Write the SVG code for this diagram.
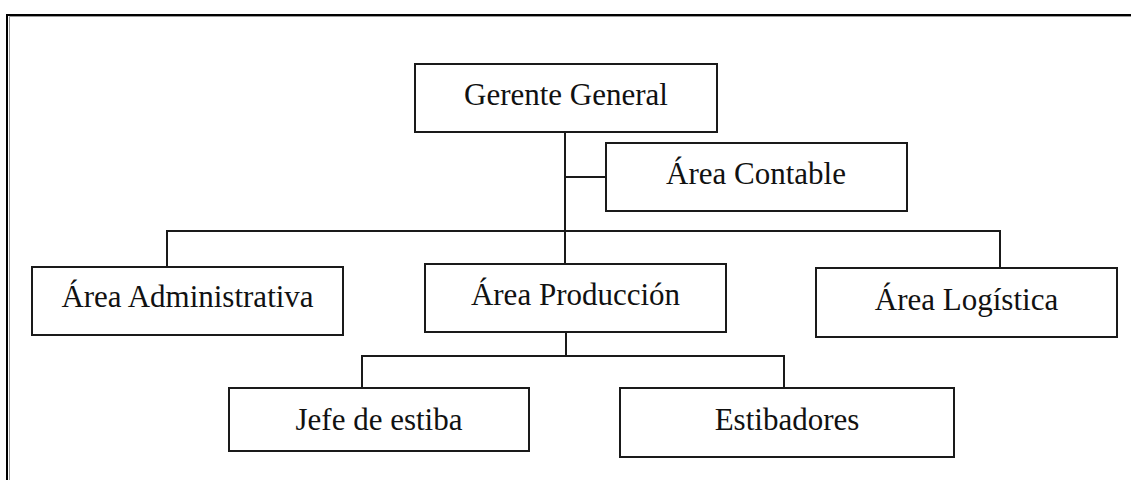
<svg xmlns="http://www.w3.org/2000/svg" width="1131" height="480" viewBox="0 0 1131 480">
<style>
.box{fill:#fff;stroke:#1a1a1a;stroke-width:2}
.lbl{font-family:"Liberation Serif","Times New Roman",serif;font-size:31px;fill:#111;text-anchor:middle}
.ln{fill:none;stroke:#1a1a1a;stroke-width:2}
</style>
<rect width="1131" height="480" fill="#fff"/>
<g id="frame">
<path d="M9.5,481 V16.5 H1132" fill="none" stroke="#999" stroke-width="1"/>
<path d="M7,481 V15 H1132" fill="none" stroke="#000" stroke-width="2"/>
</g>
<g id="connectors">
<path class="ln" d="M565,132 V264"/>
<path class="ln" d="M565,177 H606"/>
<path class="ln" d="M167,267 V231 H1000 V268"/>
<path class="ln" d="M566,332 V356"/>
<path class="ln" d="M362,388 V356 H784 V388"/>
</g>
<g id="gerente-general">
<rect class="box" x="415" y="64" width="302" height="68"/>
<text class="lbl" x="566" y="105">Gerente General</text>
</g>
<g id="area-contable">
<rect class="box" x="606" y="143" width="301" height="68"/>
<text class="lbl" x="756" y="184">Área Contable</text>
</g>
<g id="area-administrativa">
<rect class="box" x="32" y="267" width="311" height="68"/>
<text class="lbl" x="187.5" y="307">Área Administrativa</text>
</g>
<g id="area-produccion">
<rect class="box" x="425" y="264" width="301" height="68"/>
<text class="lbl" x="575.5" y="305">Área Producción</text>
</g>
<g id="area-logistica">
<rect class="box" x="816" y="268" width="301" height="69"/>
<text class="lbl" x="966.5" y="310">Área Logística</text>
</g>
<g id="jefe-de-estiba">
<rect class="box" x="229" y="388" width="300" height="63"/>
<text class="lbl" x="379" y="430">Jefe de estiba</text>
</g>
<g id="estibadores">
<rect class="box" x="620" y="388" width="334" height="69"/>
<text class="lbl" x="787" y="430">Estibadores</text>
</g>
</svg>
